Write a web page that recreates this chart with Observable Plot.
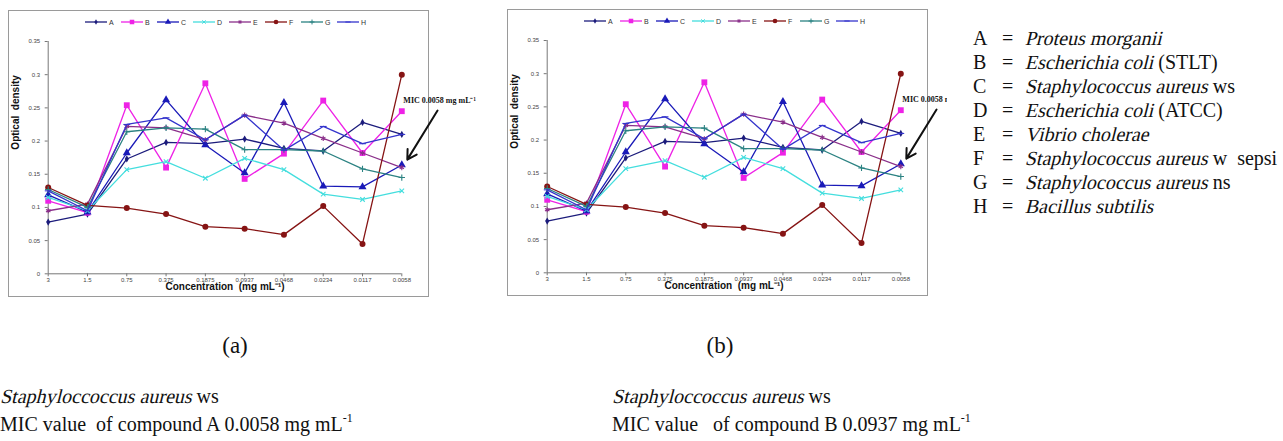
<!DOCTYPE html>
<html><head><meta charset="utf-8">
<script src="https://cdn.jsdelivr.net/npm/d3@7"></script>
<script src="https://cdn.jsdelivr.net/npm/@observablehq/plot@0.6"></script>
<style>
body{margin:0;width:1283px;height:441px;background:#fff;position:relative;overflow:hidden;font-family:"Liberation Serif","Times New Roman",serif;color:#111}
.chart{position:absolute;border:1px solid #9a9a9a;width:419px;height:285px;background:#fff}
.chart > svg{overflow:visible;position:absolute;left:0;top:0}
.leg{position:absolute;left:76px;top:7px;display:flex;font:7px "Liberation Sans",Arial,sans-serif;color:#333;align-items:center}
.leg .it{width:36px;display:flex;align-items:center}
.leg .it svg{display:block}
.leg .it span{margin-left:2px}
#key{position:absolute;left:947px;top:26px;width:336px;padding-left:26px;box-sizing:border-box;background:#fff;font-size:20px;line-height:24px;white-space:nowrap}
#key .l{display:inline-block;width:29px}
#key .e{display:inline-block;width:23px}
.it2{display:inline-block;font-style:normal;transform:skewX(-14deg);transform-origin:50% 75%}
.cap{position:absolute;font-size:23px;text-align:center;width:470px}
.txt{position:absolute;font-size:20px;line-height:28px;white-space:nowrap}
sup{font-size:12px;vertical-align:9px;line-height:0}
</style></head><body>
<div id="ca" class="chart" style="left:8px;top:10px"></div>
<div id="cb" class="chart" style="left:507px;top:9px"></div>
<div id="key"></div>
<div class="cap" style="left:0;top:333px">(a)</div>
<div class="cap" style="left:485px;top:333px">(b)</div>
<div class="txt" style="left:0;top:382px"><span class="it2">Staphyloccoccus aureus</span> ws<br>MIC value&nbsp; of compound A 0.0058 mg mL<sup>-1</sup></div>
<div class="txt" style="left:612px;top:382px"><span class="it2">Staphyloccoccus aureus</span> ws<br>MIC value&nbsp;&nbsp; of compound B 0.0937 mg mL<sup>-1</sup></div>
<script>
const categories = ["3","1.5","0.75","0.375","0.1875","0.0937","0.0468","0.0234","0.0117","0.0058"];
const seriesNames = ["A","B","C","D","E","F","G","H"];
const A = [0.078,0.090,0.173,0.198,0.196,0.203,0.189,0.185,0.228,0.210];
const B = [0.110,0.092,0.254,0.160,0.287,0.143,0.181,0.261,0.182,0.245];
const C = [0.119,0.093,0.182,0.262,0.194,0.152,0.258,0.132,0.131,0.164];
const D = [0.115,0.095,0.157,0.169,0.144,0.174,0.157,0.120,0.112,0.125];
const E = [0.095,0.105,0.222,0.220,0.202,0.239,0.227,0.204,0.182,0.160];
const F = [0.130,0.103,0.099,0.090,0.071,0.068,0.059,0.102,0.045,0.300];
const G = [0.127,0.100,0.214,0.220,0.218,0.187,0.187,0.185,0.158,0.145];
const H = [0.125,0.095,0.225,0.235,0.202,0.239,0.186,0.222,0.196,0.210];
const yTicks = [0,0.05,0.1,0.15,0.2,0.25,0.3,0.35];
const colors = ["#1c1c7c","#ee22e6","#1a1ab8","#44dede","#8a2f8a","#861414","#2b8282","#3434cc"];
const organismItalic = ["Proteus morganii","Escherichia coli","Staphylococcus aureus","Escherichia coli","Vibrio cholerae","Staphylococcus aureus","Staphylococcus aureus","Bacillus subtilis"];
const organismSuffix = ["","(STLT)","ws","(ATCC)","","w&nbsp; sepsi","ns",""];
const yLabel = "Optical  density";
const xLabel = "Concentration  (mg mL\u207B\u00B9)";
const mic = {label: "MIC 0.0058 mg mL\u207B\u00B9", tx: 9.04, ty: 0.261, x1: 9.91, y1: 0.246, x2: 9.14, y2: 0.172};

const values = [A,B,C,D,E,F,G,H];
const dash = {draw(ctx, size){const w = Math.sqrt(size)*0.8; ctx.moveTo(-w,0); ctx.lineTo(w,0);}};
const symbols = [d3.symbolDiamond, d3.symbolSquare, d3.symbolTriangle, d3.symbolTimes, d3.symbolAsterisk, d3.symbolCircle, d3.symbolPlus, dash];
const filled = [true,true,true,false,false,true,false,false];
const radii = [2.2,3.3,3.0,2.2,2.4,3.0,2.2,2.4];
const idx = categories.map((_, i) => i);

function makeChart(){
  const marks = [
    Plot.ruleX([0], {y1: 0, y2: yTicks[yTicks.length-1], stroke: "#777"}),
    Plot.ruleY([0], {stroke: "#777"}),
    Plot.axisY({ticks: yTicks, tickFormat: d => String(d), tickSize: 3, tickPadding: 5, fontSize: 6, label: null, stroke: "#777", fill: "#444"}),
    Plot.axisX({ticks: idx, tickFormat: i => categories[i], tickSize: 3, tickPadding: 1, fontSize: 6, label: null, stroke: "#777", fill: "#444"}),
    Plot.text([yLabel], {frameAnchor: "left", rotate: -90, dx: -32, dy: -8, fontWeight: "bold", fontSize: 10, fill: "#111"}),
    Plot.text([xLabel], {frameAnchor: "bottom", dy: 16, fontWeight: "bold", fontSize: 10, fill: "#111"})
  ];
  seriesNames.forEach((s, k) => {
    const rows = values[k].map((v, i) => ({s, i, v}));
    marks.push(Plot.line(rows, {x: "i", y: "v", stroke: colors[k], strokeWidth: 1.3}));
    marks.push(Plot.dot(rows, filled[k]
      ? {x: "i", y: "v", symbol: symbols[k], r: radii[k], fill: colors[k], stroke: "none"}
      : {x: "i", y: "v", symbol: symbols[k], r: radii[k], fill: "none", stroke: colors[k], strokeWidth: 1.1}));
  });
  marks.push(Plot.text([mic], {x: "tx", y: "ty", text: "label", textAnchor: "start", fontFamily: "Liberation Serif, Times New Roman, serif", fontWeight: "bold", fontSize: 8, fill: "#111"}));
  marks.push(Plot.arrow([mic], {x1: "x1", y1: "y1", x2: "x2", y2: "y2", stroke: "#111", strokeWidth: 2, headLength: 8}));
  return Plot.plot({
    width: 419, height: 285,
    marginLeft: 38.7, marginRight: 26.7, marginTop: 30, marginBottom: 22.7,
    x: {type: "linear", domain: [0, categories.length - 1]},
    y: {domain: [0, yTicks[yTicks.length-1]]},
    r: {type: "identity"},
    style: {fontFamily: "Liberation Sans, Arial, sans-serif", overflow: "visible", background: "transparent"},
    marks
  });
}

function makeLegend(){
  const leg = document.createElement("div");
  leg.className = "leg";
  seriesNames.forEach((s, k) => {
    const it = document.createElement("div");
    it.className = "it";
    const svg = d3.create("svg").attr("width", 22).attr("height", 8);
    svg.append("line").attr("x1", 0).attr("x2", 22).attr("y1", 4).attr("y2", 4).attr("stroke", colors[k]).attr("stroke-width", 1.3);
    const p = d3.symbol().type(symbols[k]).size(Math.PI * radii[k] * radii[k] * 0.6)();
    svg.append("path").attr("d", p).attr("transform", "translate(11,4)")
      .attr("fill", filled[k] ? colors[k] : "none").attr("stroke", filled[k] ? "none" : colors[k]);
    it.appendChild(svg.node());
    const sp = document.createElement("span");
    sp.textContent = s;
    it.appendChild(sp);
    leg.appendChild(it);
  });
  return leg;
}

for (const id of ["ca","cb"]) {
  const el = document.getElementById(id);
  el.appendChild(makeChart());
  el.appendChild(makeLegend());
}

document.getElementById("key").innerHTML = seriesNames.map((s, k) =>
  `<div><span class="l">${s}</span><span class="e">=</span><span class="it2">${organismItalic[k]}</span>${organismSuffix[k] ? " " + organismSuffix[k] : ""}</div>`).join("");
</script>
</body></html>
